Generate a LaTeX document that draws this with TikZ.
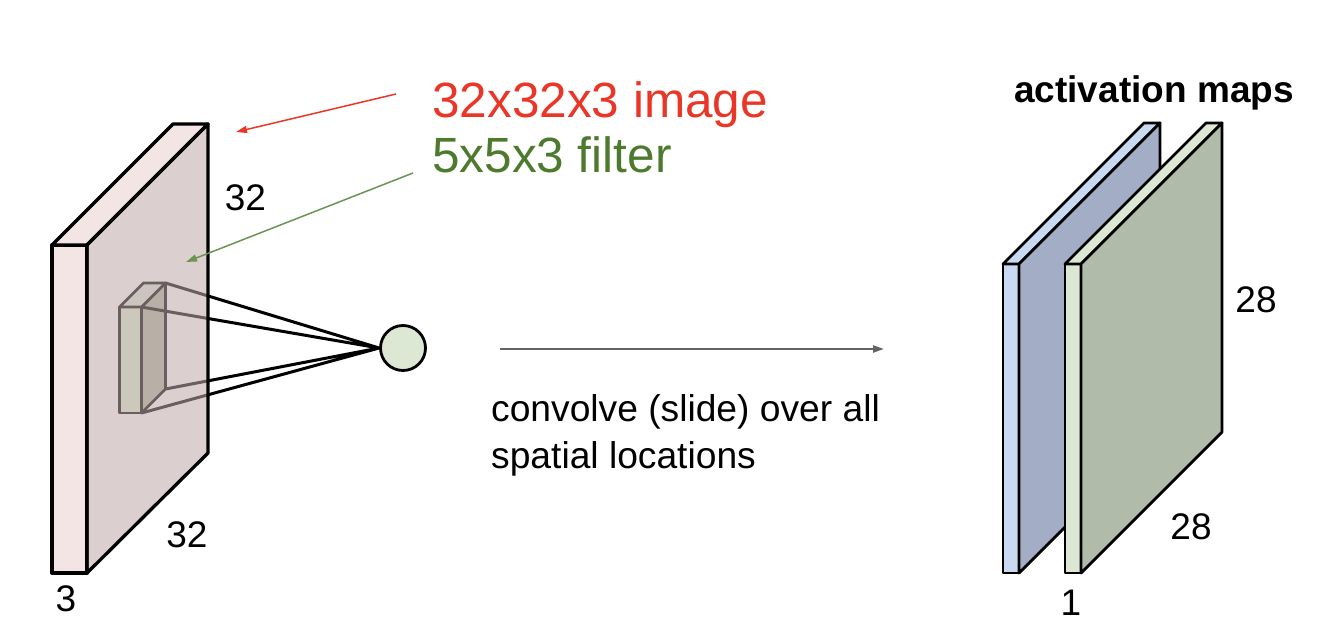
\documentclass[tikz,border=0pt]{standalone}
\usepackage{fontspec}
\setmainfont{Liberation Sans}
\usepackage{tikz}
\usetikzlibrary{positioning, arrows.meta, calc}
\definecolor{img-red}{RGB}{234,54,38}
\definecolor{flt-green}{RGB}{78,122,46}
\definecolor{arr-green}{RGB}{106,148,82}
\definecolor{arr-gray}{RGB}{100,100,100}
\definecolor{vol-strip}{RGB}{244,229,229}
\definecolor{vol-face}{RGB}{192,169,169}
\definecolor{flt-front}{RGB}{221,239,212}
\definecolor{flt-side}{RGB}{174,185,163}
\definecolor{flt-top}{RGB}{221,230,217}
\definecolor{map-green}{RGB}{221,232,212}
\definecolor{map-greenface}{RGB}{177,187,169}
\definecolor{map-blue}{RGB}{201,217,242}
\definecolor{map-blueface}{RGB}{163,174,198}

\begin{document}
\begin{tikzpicture}[x=1pt, y=-1pt, line join=round,
	vol/.style={draw=black, line width=3.3pt},
	flt/.style={draw=black, line width=2.8pt},
	amap/.style={draw=black, line width=2.8pt},
	num/.style={font=\fontsize{37}{44}\selectfont, inner sep=0pt},
	big/.style={font=\fontsize{49.5}{56}\selectfont, inner sep=0pt, anchor=base west},
	txt/.style={font=\fontsize{37.2}{47}\selectfont, inner sep=0pt, anchor=base west},
	tip/.style={-{Triangle[length=11pt, width=7pt]}}]
							\useasboundingbox (0,0) rectangle (1327,637);
							\node[big, text=img-red] (img) at (432,117) {32x32x3 image};
							\node[big, text=flt-green] (filt) at (432,172) {5x5x3 filter};
							\node[txt] (conv1) at (491,421) {convolve (slide) over all};
							\node[txt] (conv2) at (491,468) {spatial locations};
							\node[txt, font=\bfseries\fontsize{37}{44}\selectfont] (maps) at (1014,102) {activation maps};
							\node[circle, draw, line width=2.8pt, fill=map-green, minimum size=45pt, inner sep=0pt] (neuron) at (403,348) {};
							\filldraw[vol, fill=vol-strip] (52,245) -- (87,245) -- (87,573) -- (52,573) -- cycle;
							\filldraw[vol, fill=vol-strip] (52,245) -- (173,124) -- (208,124) -- (87,245) -- cycle;
							\coordinate (fA) at (119.5,307);
							\coordinate (fB) at (141.5,307);
							\coordinate (fC) at (141.5,413);
							\coordinate (fD) at (119.5,413);
							\coordinate (fE) at (143.5,283);
							\coordinate (fF) at (165.5,283);
							\coordinate (fG) at (165.5,389);
							\filldraw[flt, fill=flt-front] (fA) -- (fB) -- (fC) -- (fD) -- cycle;
							\filldraw[flt, fill=flt-side] (fB) -- (fF) -- (fG) -- (fC) -- cycle;
							\filldraw[flt, fill=flt-top] (fA) -- (fE) -- (fF) -- (fB) -- cycle;
							\draw[line width=3pt]
							(neuron.west) -- (fF)
							(neuron.west) -- (fB)
							(neuron.west) -- (fG)
							(neuron.west) -- (fC);
							\filldraw[vol, fill=vol-face, fill opacity=0.557] (87,245) -- (208,124) -- (208,453) -- (87,573) -- cycle;
							\node[num] (top32) at (245.5,197.5) {32};
							\node[num] (side32) at (187,535) {32};
							\node[num] (depth3) at (66,599) {3};
							\filldraw[amap, fill=map-blue] (1003,264) -- (1019,264) -- (1019,573) -- (1003,573) -- cycle;
							\filldraw[amap, fill=map-blue] (1003,264) -- (1144,123) -- (1160,123) -- (1019,264) -- cycle;
							\filldraw[amap, fill=map-blueface] (1019,264) -- (1160,123) -- (1160,432) -- (1019,573) -- cycle;
							\filldraw[amap, fill=map-green] (1065,264) -- (1081,264) -- (1081,573) -- (1065,573) -- cycle;
							\filldraw[amap, fill=map-green] (1065,264) -- (1206,123) -- (1222,123) -- (1081,264) -- cycle;
							\filldraw[amap, fill=map-greenface] (1081,264) -- (1222,123) -- (1222,432) -- (1081,573) -- cycle;
							\node[num] (side28) at (1256,300) {28};
							\node[num] (bot28) at (1191,527) {28};
							\node[num] (depth1) at (1071,603) {1};
							\coordinate (redtail) at (396,94);
							\coordinate (redhead) at (236,132);
							\coordinate (greentail) at (413,173);
							\coordinate (greenhead) at (186,262);
							\coordinate (slidetail) at (500,349);
							\coordinate (slidehead) at (884,349);
							\draw
							(redtail) edge[tip, img-red, line width=1.5pt] (redhead)
							(greentail) edge[tip, arr-green, line width=1.5pt] (greenhead)
							(slidetail) edge[tip, arr-gray, line width=2.2pt] (slidehead);
						\end{tikzpicture}
\end{document}
